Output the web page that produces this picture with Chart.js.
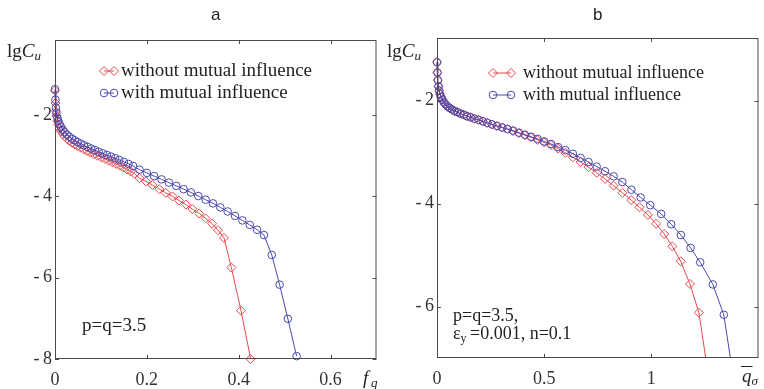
<!DOCTYPE html>
<html>
<head>
<meta charset="utf-8">
<script src="https://cdn.jsdelivr.net/npm/chart.js@4.4.1/dist/chart.umd.min.js"></script>
<style>
  body { margin: 0; background: #fff; }
  #wrap { position: relative; width: 764px; height: 389px; }
  canvas { position: absolute; top: 0; }
</style>
</head>
<body>
<div id="wrap">
  <canvas id="chartA" width="382" height="389" style="left:0"></canvas>
  <canvas id="chartB" width="382" height="389" style="left:382px"></canvas>
</div>
<script>
// ---- data ----
const legendNames = ['without mutual influence', 'with mutual influence'];

// panel a: lgCu vs f_q
const aNoX = [0, 0.001, 0.002, 0.003, 0.005, 0.007, 0.010, 0.013, 0.017, 0.021, 0.026, 0.031, 0.037, 0.043, 0.049, 0.056, 0.063, 0.070, 0.077, 0.085, 0.093, 0.101, 0.109, 0.117, 0.125, 0.133, 0.141, 0.149, 0.157, 0.165, 0.173, 0.184, 0.198, 0.212, 0.227, 0.241, 0.256, 0.270, 0.285, 0.299, 0.314, 0.328, 0.342, 0.355, 0.368, 0.384, 0.405, 0.426];
const aNoY = [-1.40, -1.70, -1.90, -2.02, -2.14, -2.23, -2.32, -2.39, -2.46, -2.52, -2.58, -2.63, -2.68, -2.72, -2.76, -2.80, -2.84, -2.88, -2.92, -2.96, -3.00, -3.04, -3.08, -3.12, -3.16, -3.20, -3.24, -3.29, -3.34, -3.39, -3.44, -3.55, -3.63, -3.72, -3.82, -3.91, -4.00, -4.10, -4.20, -4.31, -4.42, -4.54, -4.67, -4.83, -5.02, -5.75, -6.81, -8.00];
const aWithX = [0, 0.001, 0.002, 0.003, 0.005, 0.007, 0.010, 0.013, 0.017, 0.021, 0.026, 0.031, 0.037, 0.043, 0.049, 0.056, 0.063, 0.071, 0.079, 0.087, 0.095, 0.104, 0.113, 0.122, 0.131, 0.140, 0.150, 0.160, 0.170, 0.184, 0.200, 0.216, 0.232, 0.248, 0.264, 0.280, 0.296, 0.312, 0.328, 0.344, 0.360, 0.376, 0.392, 0.408, 0.424, 0.440, 0.455, 0.472, 0.489, 0.507, 0.526];
const aWithY = [-1.36, -1.62, -1.82, -1.95, -2.06, -2.14, -2.22, -2.29, -2.36, -2.42, -2.48, -2.53, -2.58, -2.62, -2.66, -2.70, -2.74, -2.78, -2.82, -2.86, -2.90, -2.94, -2.98, -3.02, -3.06, -3.10, -3.15, -3.20, -3.25, -3.34, -3.42, -3.50, -3.58, -3.66, -3.74, -3.82, -3.90, -3.99, -4.08, -4.17, -4.27, -4.37, -4.48, -4.59, -4.70, -4.82, -4.95, -5.44, -6.17, -7.01, -7.93];
const aXTicks = [0, 0.2, 0.4, 0.6];
const aYTicks = [-8, -6, -4, -2];

// panel b: lgCu vs mean q_sigma
const bNoX = [0, 0.002, 0.004, 0.007, 0.010, 0.014, 0.019, 0.025, 0.032, 0.040, 0.049, 0.059, 0.070, 0.082, 0.095, 0.109, 0.124, 0.140, 0.157, 0.175, 0.194, 0.214, 0.235, 0.257, 0.280, 0.304, 0.329, 0.355, 0.382, 0.410, 0.439, 0.469, 0.500, 0.532, 0.565, 0.599, 0.634, 0.670, 0.707, 0.745, 0.784, 0.824, 0.865, 0.906, 0.945, 0.984, 1.022, 1.060, 1.098, 1.137, 1.180, 1.222, 1.290];
const bNoY = [-1.25, -1.45, -1.60, -1.72, -1.80, -1.87, -1.93, -1.98, -2.03, -2.07, -2.11, -2.14, -2.17, -2.20, -2.22, -2.25, -2.27, -2.30, -2.32, -2.35, -2.37, -2.40, -2.43, -2.46, -2.49, -2.52, -2.55, -2.59, -2.63, -2.67, -2.71, -2.76, -2.81, -2.86, -2.93, -3.01, -3.10, -3.19, -3.29, -3.40, -3.52, -3.65, -3.79, -3.93, -4.07, -4.22, -4.39, -4.59, -4.83, -5.12, -5.56, -6.12, -8.00];
const bWithX = [0, 0.002, 0.004, 0.007, 0.010, 0.014, 0.019, 0.025, 0.032, 0.040, 0.049, 0.059, 0.070, 0.082, 0.095, 0.109, 0.124, 0.140, 0.157, 0.175, 0.194, 0.214, 0.235, 0.257, 0.280, 0.304, 0.329, 0.355, 0.382, 0.410, 0.439, 0.469, 0.500, 0.532, 0.565, 0.599, 0.634, 0.670, 0.707, 0.745, 0.784, 0.824, 0.865, 0.907, 0.950, 0.995, 1.046, 1.093, 1.138, 1.183, 1.228, 1.287, 1.338, 1.400];
const bWithY = [-1.25, -1.45, -1.60, -1.72, -1.80, -1.87, -1.93, -1.98, -2.03, -2.07, -2.11, -2.14, -2.17, -2.20, -2.22, -2.25, -2.27, -2.30, -2.32, -2.35, -2.37, -2.40, -2.43, -2.46, -2.49, -2.52, -2.55, -2.58, -2.62, -2.66, -2.70, -2.74, -2.79, -2.84, -2.90, -2.96, -3.03, -3.11, -3.19, -3.28, -3.37, -3.47, -3.58, -3.73, -3.88, -4.03, -4.20, -4.40, -4.61, -4.86, -5.14, -5.57, -6.16, -7.84];
const bXTicks = [0, 0.5, 1];
const bYTicks = [-6, -4, -2];

// ---- styling ----
const RED = '#e6484d';
const BLUE = '#4949ad';
const SERIF = '"Liberation Serif", "Times New Roman", serif';
const SANS = '"Liberation Sans", Arial, sans-serif';

function pts(xs, ys) {
    return xs.map((x, i) => ({ x: x, y: ys[i] }));
}

function minusFmt(v) {
    return v < 0 ? '-\u2009' + (-v) : String(v);
}

function drawMarker(ctx, kind, x, y, r) {
    ctx.beginPath();
    if (kind === 'rectRot') {
        ctx.moveTo(x - r, y); ctx.lineTo(x, y - r); ctx.lineTo(x + r, y); ctx.lineTo(x, y + r); ctx.closePath();
    } else {
        ctx.arc(x, y, r, 0, Math.PI * 2);
    }
    ctx.stroke();
}

// box round the plot with inward ticks on all four sides (matlab look)
function framePlugin(xTicks, yTicks) {
    return {
        id: 'frame',
        afterDraw(chart) {
            const { ctx, chartArea: a, scales: { x, y } } = chart;
            ctx.save();
            ctx.strokeStyle = '#4a4a4a';
            ctx.lineWidth = 1;
            ctx.strokeRect(a.left + 0.5, a.top + 0.5, a.right - a.left - 1, a.bottom - a.top - 1);
            ctx.beginPath();
            xTicks.forEach(v => {
                const px = Math.round(x.getPixelForValue(v)) + 0.5;
                ctx.moveTo(px, a.bottom); ctx.lineTo(px, a.bottom - 4);
                ctx.moveTo(px, a.top); ctx.lineTo(px, a.top + 4);
            });
            yTicks.forEach(v => {
                const py = Math.round(y.getPixelForValue(v)) + 0.5;
                ctx.moveTo(a.left, py); ctx.lineTo(a.left + 4, py);
                ctx.moveTo(a.right, py); ctx.lineTo(a.right - 4, py);
            });
            ctx.stroke();
            ctx.restore();
        }
    };
}

// title, axis names, legend and notes
function labelsPlugin(o) {
    return {
        id: 'labels',
        afterDraw(chart) {
            const ctx = chart.ctx;
            const a = chart.chartArea;
            ctx.save();
            ctx.fillStyle = '#222';
            ctx.textBaseline = 'middle';
            ctx.textAlign = 'center';
            ctx.font = '17px ' + SANS;
            ctx.fillText(o.title, (a.left + a.right) / 2, 15);

            // y axis name: lgC_u
            ctx.textAlign = 'left';
            ctx.textBaseline = 'alphabetic';
            let x0 = o.yLabelX;
            ctx.font = '19px ' + SERIF;
            ctx.fillText('lg', x0, 57);
            x0 += ctx.measureText('lg').width;
            ctx.font = 'italic 19px ' + SERIF;
            ctx.fillText('C', x0, 57);
            x0 += ctx.measureText('C').width;
            ctx.font = 'italic 13px ' + SERIF;
            ctx.fillText('u', x0, 60);

            o.xLabel(ctx);

            // legend
            ctx.lineWidth = 1;
            o.legend.forEach((row, i) => {
                ctx.strokeStyle = row.color;
                ctx.beginPath();
                ctx.moveTo(row.m1, row.y); ctx.lineTo(row.m2, row.y);
                ctx.stroke();
                drawMarker(ctx, row.kind, row.m1, row.y, row.r);
                drawMarker(ctx, row.kind, row.m2, row.y, row.r);
                ctx.fillStyle = '#222';
                ctx.textBaseline = 'middle';
                ctx.font = o.legendFont + 'px ' + SERIF;
                ctx.fillText(legendNames[i], o.legendTextX, row.y);
            });

            ctx.textBaseline = 'alphabetic';
            o.notes(ctx);
            ctx.restore();
        }
    };
}

function makeChart(id, cfg) {
    const datasets = [
        {
            data: pts(cfg.noX, cfg.noY), order: 1,
            borderColor: RED, borderWidth: 1, tension: 0,
            pointStyle: 'rectRot', pointRadius: 4.5, pointBorderWidth: 1,
            pointBorderColor: RED, pointBackgroundColor: 'rgba(0,0,0,0)',
            clip: cfg.clip
        },
        {
            data: pts(cfg.withX, cfg.withY), order: 0,
            borderColor: BLUE, borderWidth: 1, tension: 0,
            pointStyle: 'circle', pointRadius: 3.8, pointBorderWidth: 1,
            pointBorderColor: BLUE, pointBackgroundColor: 'rgba(0,0,0,0)',
            clip: cfg.clip
        }
    ];
    const tickFont = { family: SERIF, size: 18 };
    return new Chart(document.getElementById(id), {
        type: 'line',
        data: { datasets: datasets },
        options: {
            responsive: false,
            animation: false,
            layout: { padding: { top: cfg.top, right: cfg.right, left: 0, bottom: 0 } },
            plugins: { legend: { display: false }, tooltip: { enabled: false } },
            scales: {
                x: {
                    type: 'linear', min: cfg.xMin, max: cfg.xMax,
                    grid: { display: false, drawTicks: false }, border: { display: false },
                    afterBuildTicks: s => { s.ticks = cfg.xTicks.map(v => ({ value: v })); },
                    afterFit: s => { s.height = cfg.xAxisH; },
                    ticks: { padding: 10, autoSkip: false, maxRotation: 0, color: '#333', font: tickFont, callback: v => String(v) }
                },
                y: {
                    type: 'linear', min: cfg.yMin, max: cfg.yMax,
                    grid: { display: false, drawTicks: false }, border: { display: false },
                    afterBuildTicks: s => { s.ticks = cfg.yTicks.map(v => ({ value: v })); },
                    afterFit: s => { s.width = 55; },
                    ticks: { padding: 3, autoSkip: false, color: '#333', font: tickFont, callback: minusFmt }
                }
            }
        },
        plugins: [framePlugin(cfg.xTicks, cfg.yTicks), labelsPlugin(cfg.labels)]
    });
}

// panel a
makeChart('chartA', {
    noX: aNoX, noY: aNoY, withX: aWithX, withY: aWithY,
    xMin: 0, xMax: 0.7, yMin: -8, yMax: -0.15,
    xTicks: aXTicks, yTicks: aYTicks,
    top: 40, right: 4, xAxisH: 30, clip: 6,
    labels: {
        title: 'a', yLabelX: 7,
        legendFont: 19, legendTextX: 121,
        legend: [
            { color: RED, kind: 'rectRot', r: 4.5, m1: 104, m2: 114, y: 71 },
            { color: BLUE, kind: 'circle', r: 3.8, m1: 104, m2: 114, y: 93 }
        ],
        xLabel(ctx) {
            ctx.font = 'italic 19px ' + SERIF;
            ctx.fillText('f', 363, 384);
            ctx.font = 'italic 13px ' + SERIF;
            ctx.fillText('q', 371, 387);
        },
        notes(ctx) {
            ctx.font = '19px ' + SERIF;
            ctx.fillText('p=q=3.5', 82, 331);
        }
    }
});

// panel b
makeChart('chartB', {
    noX: bNoX, noY: bNoY, withX: bWithX, withY: bWithY,
    xMin: 0, xMax: 1.5, yMin: -7, yMax: -0.78,
    xTicks: bXTicks, yTicks: bYTicks,
    top: 38, right: 3, xAxisH: 31, clip: { left: 6, top: 6, right: 6, bottom: 0 },
    labels: {
        title: 'b', yLabelX: 5,
        legendFont: 18, legendTextX: 141,
        legend: [
            { color: RED, kind: 'rectRot', r: 4.5, m1: 111, m2: 129, y: 73 },
            { color: BLUE, kind: 'circle', r: 3.8, m1: 111, m2: 129, y: 95 }
        ],
        xLabel(ctx) {
            ctx.font = 'italic 19px ' + SERIF;
            ctx.fillText('q', 360, 382);
            const w = ctx.measureText('q').width;
            ctx.strokeStyle = '#222';
            ctx.lineWidth = 1;
            ctx.beginPath();
            ctx.moveTo(359, 366.5); ctx.lineTo(360 + w + 1, 366.5);
            ctx.stroke();
            ctx.font = 'italic 13px ' + SERIF;
            ctx.fillText('\u03c3', 360 + w, 385);
        },
        notes(ctx) {
            ctx.font = '18px ' + SERIF;
            ctx.fillText('p=q=3.5,', 71, 321);
            ctx.fillText('\u03b5', 71, 339);
            const w = ctx.measureText('\u03b5').width;
            ctx.font = '12px ' + SERIF;
            ctx.fillText('y', 71 + w, 342);
            ctx.font = '18px ' + SERIF;
            ctx.fillText(' =0.001, n=0.1', 71 + w + 5, 339);
        }
    }
});
</script>
</body>
</html>
